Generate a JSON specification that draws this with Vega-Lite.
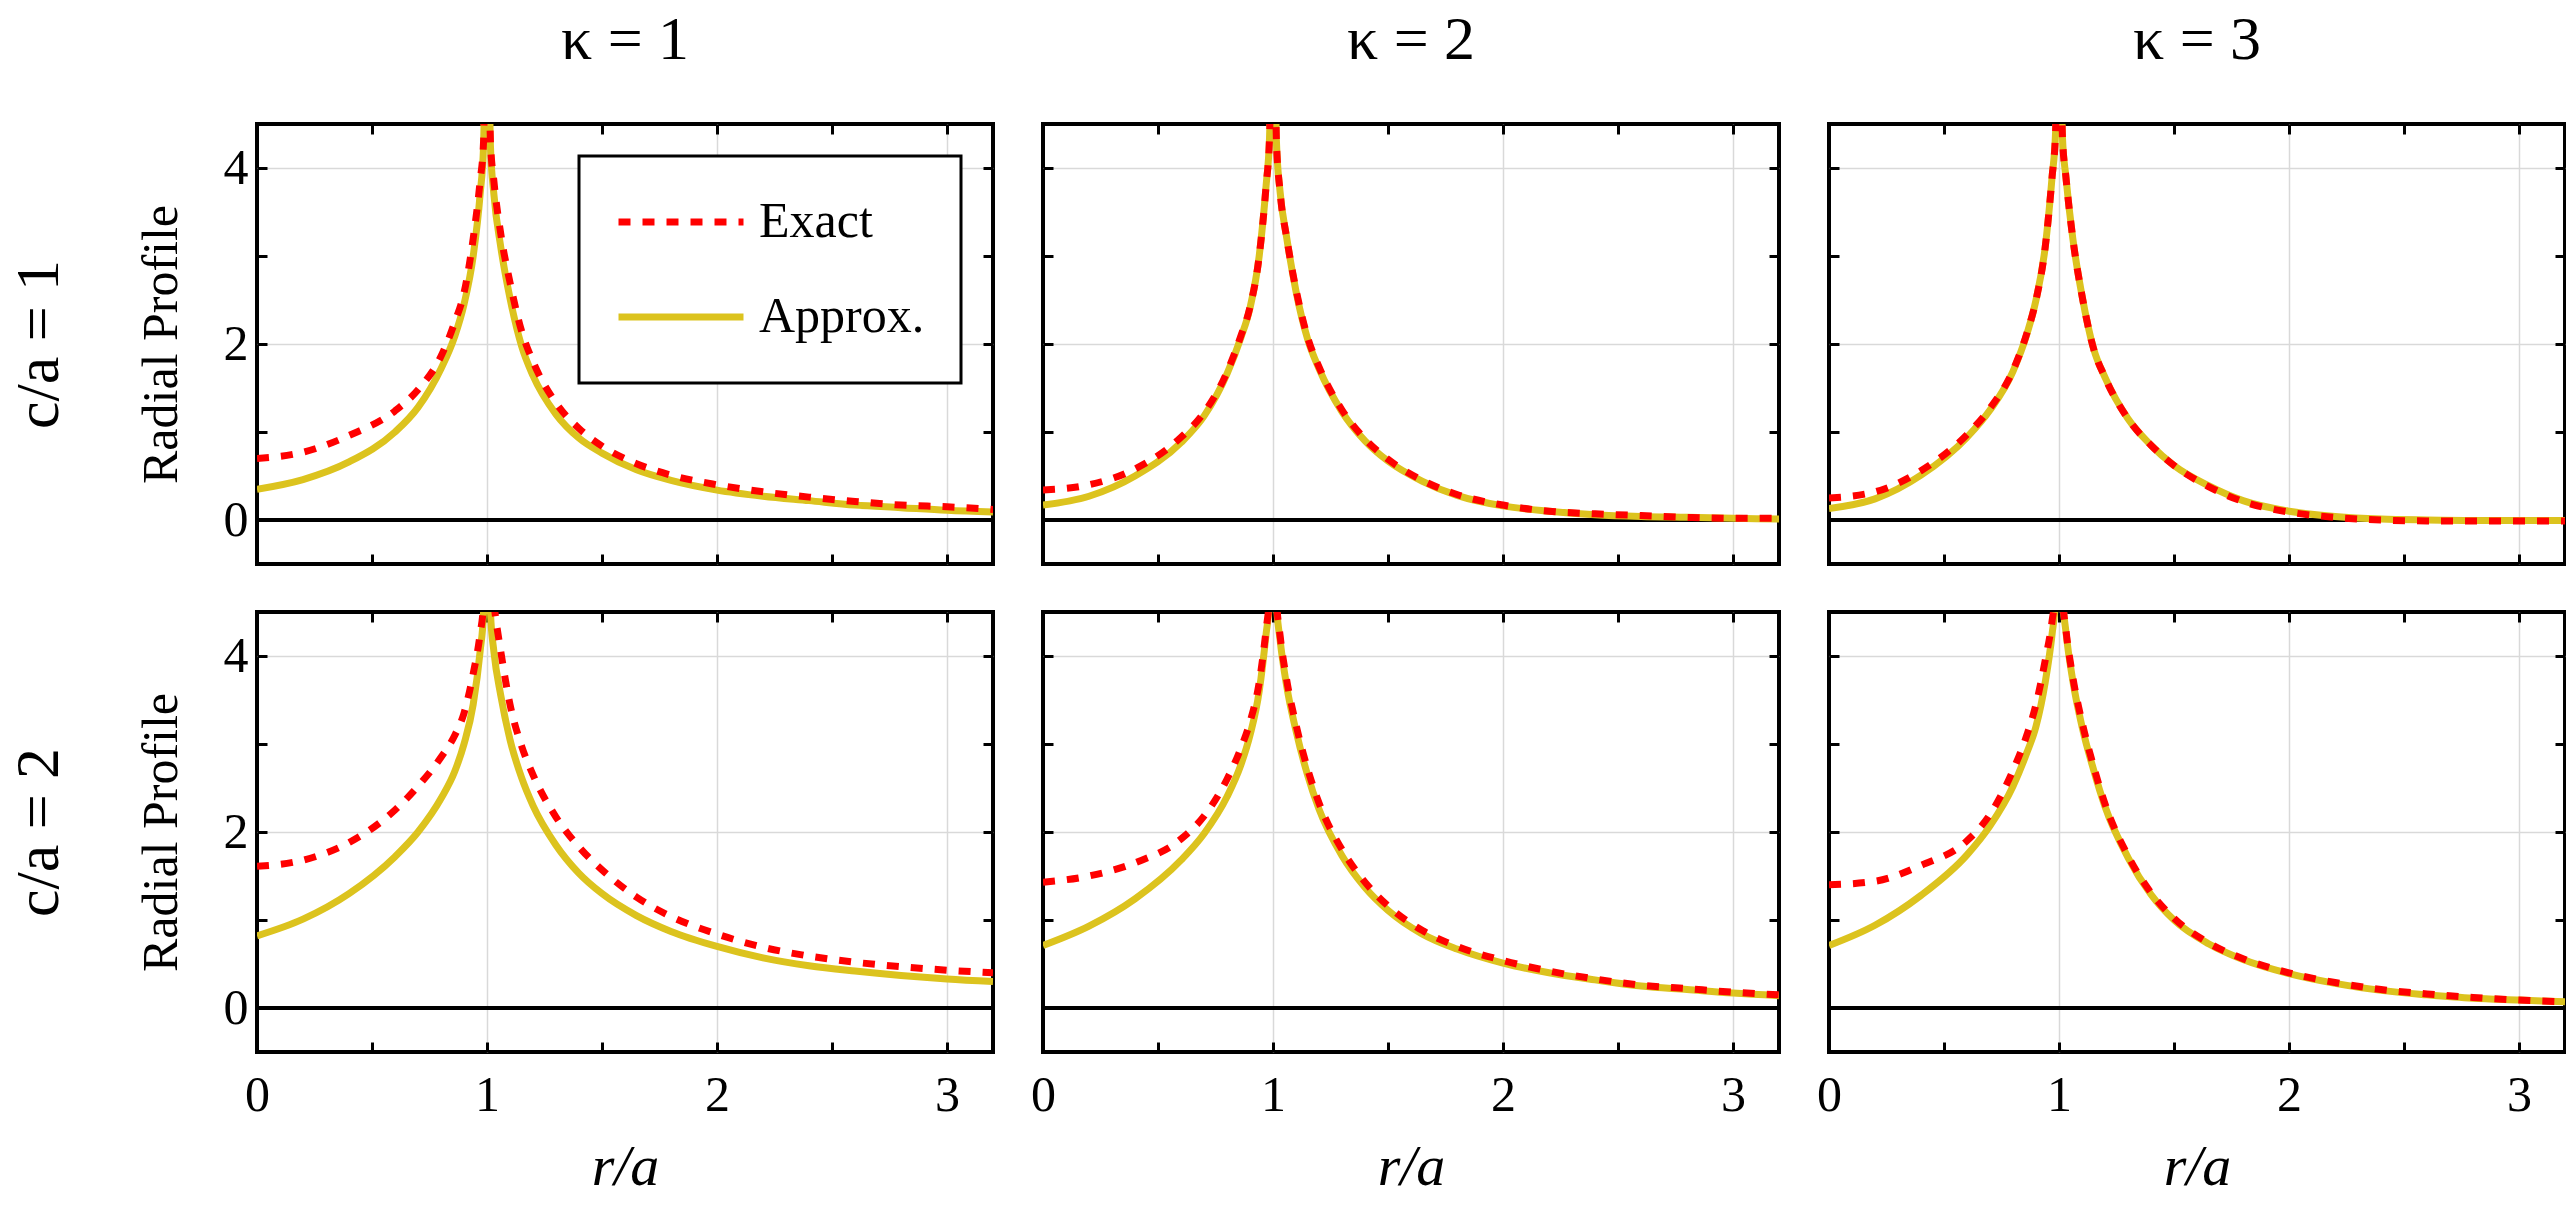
{
  "$schema": "https://vega.github.io/schema/vega-lite/v6.json",
  "description": "Radial profile: exact vs approximate, for kappa = 1, 2, 3 and c/a = 1, 2.",
  "padding": {"left": 5, "top": 6, "right": 5, "bottom": 5},
  "config": {
    "font": "Liberation Serif",
    "view": {"stroke": "black", "strokeWidth": 4},
    "axis": {
      "domain": false,
      "tickColor": "black",
      "tickWidth": 3,
      "tickSize": -10,
      "labelFont": "Liberation Serif",
      "labelFontSize": 50,
      "labelColor": "black",
      "labelFlush": false,
      "labelOverlap": false,
      "titleFont": "Liberation Serif",
      "titleFontSize": 50,
      "titleFontWeight": "normal",
      "titleColor": "black",
      "gridColor": "#d9d9d9",
      "gridWidth": 1.5
    },
    "axisX": {"labelPadding": 28, "titlePadding": 18, "titleFontStyle": "italic", "titleFontSize": 58},
    "axisY": {"labelPadding": 19, "titlePadding": 37},
    "title": {"font": "Liberation Serif", "fontSize": 62, "fontWeight": "normal", "color": "black", "offset": 51, "anchor": "middle", "frame": "group"},
    "legend": {"labelFont": "Liberation Serif", "labelFontSize": 50, "labelColor": "black", "labelLimit": 400}
  },
  "datasets": {
    "profiles": [
      {"k":1,"c":1,"r":0,"ex":0.70,"ap":0.35},
      {"k":1,"c":1,"r":0.2,"ex":0.77,"ap":0.46},
      {"k":1,"c":1,"r":0.4,"ex":0.96,"ap":0.66},
      {"k":1,"c":1,"r":0.6,"ex":1.24,"ap":1.0},
      {"k":1,"c":1,"r":0.7,"ex":1.48,"ap":1.28},
      {"k":1,"c":1,"r":0.8,"ex":1.86,"ap":1.72},
      {"k":1,"c":1,"r":0.86,"ex":2.25,"ap":2.09},
      {"k":1,"c":1,"r":0.9,"ex":2.58,"ap":2.45},
      {"k":1,"c":1,"r":0.94,"ex":3.2,"ap":3.0},
      {"k":1,"c":1,"r":0.97,"ex":3.85,"ap":3.7},
      {"k":1,"c":1,"r":0.985,"ex":4.3,"ap":4.25},
      {"k":1,"c":1,"r":1,"ex":6.5,"ap":6.5},
      {"k":1,"c":1,"r":1.015,"ex":4.3,"ap":4.25},
      {"k":1,"c":1,"r":1.03,"ex":3.85,"ap":3.7},
      {"k":1,"c":1,"r":1.06,"ex":3.25,"ap":3.1},
      {"k":1,"c":1,"r":1.1,"ex":2.7,"ap":2.52},
      {"k":1,"c":1,"r":1.15,"ex":2.15,"ap":1.98},
      {"k":1,"c":1,"r":1.2,"ex":1.8,"ap":1.64},
      {"k":1,"c":1,"r":1.3,"ex":1.33,"ap":1.2},
      {"k":1,"c":1,"r":1.4,"ex":1.04,"ap":0.93},
      {"k":1,"c":1,"r":1.5,"ex":0.84,"ap":0.76},
      {"k":1,"c":1,"r":1.65,"ex":0.64,"ap":0.57},
      {"k":1,"c":1,"r":1.8,"ex":0.51,"ap":0.45},
      {"k":1,"c":1,"r":2,"ex":0.40,"ap":0.34},
      {"k":1,"c":1,"r":2.2,"ex":0.32,"ap":0.27},
      {"k":1,"c":1,"r":2.4,"ex":0.26,"ap":0.22},
      {"k":1,"c":1,"r":2.6,"ex":0.21,"ap":0.17},
      {"k":1,"c":1,"r":2.8,"ex":0.17,"ap":0.14},
      {"k":1,"c":1,"r":3,"ex":0.15,"ap":0.11},
      {"k":1,"c":1,"r":3.2,"ex":0.12,"ap":0.09},

      {"k":2,"c":1,"r":0,"ex":0.34,"ap":0.17},
      {"k":2,"c":1,"r":0.2,"ex":0.40,"ap":0.27},
      {"k":2,"c":1,"r":0.4,"ex":0.58,"ap":0.50},
      {"k":2,"c":1,"r":0.6,"ex":0.94,"ap":0.88},
      {"k":2,"c":1,"r":0.7,"ex":1.22,"ap":1.18},
      {"k":2,"c":1,"r":0.8,"ex":1.68,"ap":1.66},
      {"k":2,"c":1,"r":0.86,"ex":2.09,"ap":2.07},
      {"k":2,"c":1,"r":0.9,"ex":2.42,"ap":2.41},
      {"k":2,"c":1,"r":0.94,"ex":3.0,"ap":3.0},
      {"k":2,"c":1,"r":0.97,"ex":3.8,"ap":3.8},
      {"k":2,"c":1,"r":0.985,"ex":4.35,"ap":4.35},
      {"k":2,"c":1,"r":1,"ex":6.5,"ap":6.5},
      {"k":2,"c":1,"r":1.015,"ex":4.3,"ap":4.3},
      {"k":2,"c":1,"r":1.03,"ex":3.75,"ap":3.75},
      {"k":2,"c":1,"r":1.06,"ex":3.2,"ap":3.2},
      {"k":2,"c":1,"r":1.1,"ex":2.62,"ap":2.6},
      {"k":2,"c":1,"r":1.15,"ex":2.08,"ap":2.06},
      {"k":2,"c":1,"r":1.2,"ex":1.74,"ap":1.72},
      {"k":2,"c":1,"r":1.3,"ex":1.25,"ap":1.23},
      {"k":2,"c":1,"r":1.4,"ex":0.92,"ap":0.90},
      {"k":2,"c":1,"r":1.5,"ex":0.69,"ap":0.67},
      {"k":2,"c":1,"r":1.65,"ex":0.45,"ap":0.44},
      {"k":2,"c":1,"r":1.8,"ex":0.29,"ap":0.28},
      {"k":2,"c":1,"r":2,"ex":0.17,"ap":0.16},
      {"k":2,"c":1,"r":2.2,"ex":0.10,"ap":0.10},
      {"k":2,"c":1,"r":2.4,"ex":0.07,"ap":0.06},
      {"k":2,"c":1,"r":2.6,"ex":0.05,"ap":0.04},
      {"k":2,"c":1,"r":2.8,"ex":0.03,"ap":0.03},
      {"k":2,"c":1,"r":3,"ex":0.02,"ap":0.02},
      {"k":2,"c":1,"r":3.2,"ex":0.02,"ap":0.01},

      {"k":3,"c":1,"r":0,"ex":0.25,"ap":0.13},
      {"k":3,"c":1,"r":0.2,"ex":0.32,"ap":0.24},
      {"k":3,"c":1,"r":0.4,"ex":0.56,"ap":0.51},
      {"k":3,"c":1,"r":0.6,"ex":0.97,"ap":0.94},
      {"k":3,"c":1,"r":0.7,"ex":1.27,"ap":1.25},
      {"k":3,"c":1,"r":0.8,"ex":1.70,"ap":1.69},
      {"k":3,"c":1,"r":0.86,"ex":2.12,"ap":2.11},
      {"k":3,"c":1,"r":0.9,"ex":2.5,"ap":2.5},
      {"k":3,"c":1,"r":0.94,"ex":3.1,"ap":3.1},
      {"k":3,"c":1,"r":0.97,"ex":3.9,"ap":3.9},
      {"k":3,"c":1,"r":0.985,"ex":4.4,"ap":4.4},
      {"k":3,"c":1,"r":1,"ex":6.5,"ap":6.5},
      {"k":3,"c":1,"r":1.015,"ex":4.35,"ap":4.35},
      {"k":3,"c":1,"r":1.03,"ex":3.9,"ap":3.9},
      {"k":3,"c":1,"r":1.06,"ex":3.2,"ap":3.2},
      {"k":3,"c":1,"r":1.1,"ex":2.55,"ap":2.55},
      {"k":3,"c":1,"r":1.15,"ex":1.95,"ap":1.95},
      {"k":3,"c":1,"r":1.2,"ex":1.62,"ap":1.62},
      {"k":3,"c":1,"r":1.3,"ex":1.15,"ap":1.15},
      {"k":3,"c":1,"r":1.4,"ex":0.85,"ap":0.85},
      {"k":3,"c":1,"r":1.5,"ex":0.62,"ap":0.62},
      {"k":3,"c":1,"r":1.65,"ex":0.38,"ap":0.39},
      {"k":3,"c":1,"r":1.8,"ex":0.21,"ap":0.22},
      {"k":3,"c":1,"r":2,"ex":0.09,"ap":0.10},
      {"k":3,"c":1,"r":2.2,"ex":0.03,"ap":0.04},
      {"k":3,"c":1,"r":2.4,"ex":0.0,"ap":0.01},
      {"k":3,"c":1,"r":2.6,"ex":-0.01,"ap":0.0},
      {"k":3,"c":1,"r":2.8,"ex":-0.01,"ap":-0.005},
      {"k":3,"c":1,"r":3,"ex":-0.01,"ap":-0.005},
      {"k":3,"c":1,"r":3.2,"ex":-0.01,"ap":-0.005},

      {"k":1,"c":2,"r":0,"ex":1.61,"ap":0.82},
      {"k":1,"c":2,"r":0.2,"ex":1.68,"ap":1.01},
      {"k":1,"c":2,"r":0.4,"ex":1.88,"ap":1.30},
      {"k":1,"c":2,"r":0.6,"ex":2.25,"ap":1.72},
      {"k":1,"c":2,"r":0.7,"ex":2.52,"ap":2.0},
      {"k":1,"c":2,"r":0.8,"ex":2.85,"ap":2.38},
      {"k":1,"c":2,"r":0.86,"ex":3.1,"ap":2.69},
      {"k":1,"c":2,"r":0.9,"ex":3.35,"ap":3.0},
      {"k":1,"c":2,"r":0.94,"ex":3.8,"ap":3.45},
      {"k":1,"c":2,"r":0.97,"ex":4.25,"ap":4.05},
      {"k":1,"c":2,"r":0.985,"ex":4.6,"ap":4.5},
      {"k":1,"c":2,"r":1,"ex":6.5,"ap":6.5},
      {"k":1,"c":2,"r":1.015,"ex":5.0,"ap":4.5},
      {"k":1,"c":2,"r":1.03,"ex":4.6,"ap":4.05},
      {"k":1,"c":2,"r":1.06,"ex":4.05,"ap":3.55},
      {"k":1,"c":2,"r":1.1,"ex":3.45,"ap":3.05},
      {"k":1,"c":2,"r":1.15,"ex":2.98,"ap":2.62},
      {"k":1,"c":2,"r":1.2,"ex":2.65,"ap":2.3},
      {"k":1,"c":2,"r":1.3,"ex":2.17,"ap":1.85},
      {"k":1,"c":2,"r":1.4,"ex":1.83,"ap":1.53},
      {"k":1,"c":2,"r":1.5,"ex":1.57,"ap":1.3},
      {"k":1,"c":2,"r":1.65,"ex":1.26,"ap":1.05},
      {"k":1,"c":2,"r":1.8,"ex":1.04,"ap":0.87},
      {"k":1,"c":2,"r":2,"ex":0.84,"ap":0.70},
      {"k":1,"c":2,"r":2.2,"ex":0.69,"ap":0.57},
      {"k":1,"c":2,"r":2.4,"ex":0.59,"ap":0.48},
      {"k":1,"c":2,"r":2.6,"ex":0.52,"ap":0.42},
      {"k":1,"c":2,"r":2.8,"ex":0.47,"ap":0.37},
      {"k":1,"c":2,"r":3,"ex":0.43,"ap":0.33},
      {"k":1,"c":2,"r":3.2,"ex":0.40,"ap":0.30},

      {"k":2,"c":2,"r":0,"ex":1.43,"ap":0.71},
      {"k":2,"c":2,"r":0.2,"ex":1.50,"ap":0.93},
      {"k":2,"c":2,"r":0.4,"ex":1.65,"ap":1.24},
      {"k":2,"c":2,"r":0.6,"ex":1.92,"ap":1.68},
      {"k":2,"c":2,"r":0.7,"ex":2.18,"ap":1.98},
      {"k":2,"c":2,"r":0.8,"ex":2.6,"ap":2.4},
      {"k":2,"c":2,"r":0.86,"ex":2.95,"ap":2.76},
      {"k":2,"c":2,"r":0.9,"ex":3.25,"ap":3.1},
      {"k":2,"c":2,"r":0.94,"ex":3.7,"ap":3.6},
      {"k":2,"c":2,"r":0.97,"ex":4.3,"ap":4.25},
      {"k":2,"c":2,"r":0.985,"ex":4.7,"ap":4.65},
      {"k":2,"c":2,"r":1,"ex":6.5,"ap":6.5},
      {"k":2,"c":2,"r":1.015,"ex":4.65,"ap":4.6},
      {"k":2,"c":2,"r":1.03,"ex":4.25,"ap":4.2},
      {"k":2,"c":2,"r":1.06,"ex":3.72,"ap":3.65},
      {"k":2,"c":2,"r":1.1,"ex":3.22,"ap":3.15},
      {"k":2,"c":2,"r":1.15,"ex":2.72,"ap":2.65},
      {"k":2,"c":2,"r":1.2,"ex":2.33,"ap":2.26},
      {"k":2,"c":2,"r":1.3,"ex":1.8,"ap":1.73},
      {"k":2,"c":2,"r":1.4,"ex":1.43,"ap":1.37},
      {"k":2,"c":2,"r":1.5,"ex":1.16,"ap":1.11},
      {"k":2,"c":2,"r":1.65,"ex":0.88,"ap":0.84},
      {"k":2,"c":2,"r":1.8,"ex":0.70,"ap":0.67},
      {"k":2,"c":2,"r":2,"ex":0.54,"ap":0.51},
      {"k":2,"c":2,"r":2.2,"ex":0.42,"ap":0.40},
      {"k":2,"c":2,"r":2.4,"ex":0.33,"ap":0.32},
      {"k":2,"c":2,"r":2.6,"ex":0.26,"ap":0.25},
      {"k":2,"c":2,"r":2.8,"ex":0.22,"ap":0.21},
      {"k":2,"c":2,"r":3,"ex":0.18,"ap":0.17},
      {"k":2,"c":2,"r":3.2,"ex":0.15,"ap":0.14},

      {"k":3,"c":2,"r":0,"ex":1.40,"ap":0.71},
      {"k":3,"c":2,"r":0.2,"ex":1.44,"ap":0.94},
      {"k":3,"c":2,"r":0.4,"ex":1.62,"ap":1.28},
      {"k":3,"c":2,"r":0.6,"ex":1.90,"ap":1.74},
      {"k":3,"c":2,"r":0.7,"ex":2.2,"ap":2.07},
      {"k":3,"c":2,"r":0.8,"ex":2.7,"ap":2.52},
      {"k":3,"c":2,"r":0.86,"ex":3.1,"ap":2.9},
      {"k":3,"c":2,"r":0.9,"ex":3.45,"ap":3.2},
      {"k":3,"c":2,"r":0.94,"ex":3.95,"ap":3.7},
      {"k":3,"c":2,"r":0.97,"ex":4.4,"ap":4.25},
      {"k":3,"c":2,"r":0.985,"ex":4.75,"ap":4.65},
      {"k":3,"c":2,"r":1,"ex":6.5,"ap":6.5},
      {"k":3,"c":2,"r":1.015,"ex":4.7,"ap":4.7},
      {"k":3,"c":2,"r":1.03,"ex":4.3,"ap":4.28},
      {"k":3,"c":2,"r":1.06,"ex":3.76,"ap":3.72},
      {"k":3,"c":2,"r":1.1,"ex":3.25,"ap":3.2},
      {"k":3,"c":2,"r":1.15,"ex":2.75,"ap":2.71},
      {"k":3,"c":2,"r":1.2,"ex":2.32,"ap":2.29},
      {"k":3,"c":2,"r":1.3,"ex":1.73,"ap":1.71},
      {"k":3,"c":2,"r":1.4,"ex":1.31,"ap":1.29},
      {"k":3,"c":2,"r":1.5,"ex":1.02,"ap":1.0},
      {"k":3,"c":2,"r":1.65,"ex":0.74,"ap":0.73},
      {"k":3,"c":2,"r":1.8,"ex":0.56,"ap":0.55},
      {"k":3,"c":2,"r":2,"ex":0.40,"ap":0.39},
      {"k":3,"c":2,"r":2.2,"ex":0.29,"ap":0.28},
      {"k":3,"c":2,"r":2.4,"ex":0.21,"ap":0.20},
      {"k":3,"c":2,"r":2.6,"ex":0.16,"ap":0.15},
      {"k":3,"c":2,"r":2.8,"ex":0.12,"ap":0.11},
      {"k":3,"c":2,"r":3,"ex":0.09,"ap":0.09},
      {"k":3,"c":2,"r":3.2,"ex":0.07,"ap":0.07}
    ]
  },
  "vconcat": [
    {
      "spacing": 50,
      "bounds": "flush",
      "resolve": {"scale": {"color": "independent"}, "legend": {"color": "independent"}},
      "hconcat": [
        {
          "title": {"text": "κ = 1"},
          "width": 736, "height": 440,
          "data": {"name": "profiles"},
          "transform": [{"filter": "datum.k === 1 && datum.c === 1"}],
          "layer": [
            {"mark": {"type": "rule", "color": "black", "strokeWidth": 4},
             "encoding": {"y": {"datum": 0, "type": "quantitative", "scale": {"domain": [-0.5, 4.5], "nice": false},
                                "axis": {"orient": "left", "title": "c/a = 1", "titleFontSize": 62, "labels": false, "ticks": false, "grid": false, "domain": false, "offset": 150, "titlePadding": 37}}}},
            {"mark": {"type": "line", "clip": true, "strokeWidth": 7, "interpolate": "monotone"},
             "encoding": {
               "x": {"field": "r", "type": "quantitative", "scale": {"domain": [0, 3.2], "nice": false, "zero": false},
                     "axis": {"orient": "bottom", "values": [0, 0.5, 1, 1.5, 2, 2.5, 3], "labels": false, "title": null, "grid": true,
                              "gridOpacity": {"condition": {"test": "datum.value > 0 && datum.value % 1 === 0", "value": 1}, "value": 0}}},
               "y": {"field": "ap", "type": "quantitative", "scale": {"domain": [-0.5, 4.5], "nice": false},
                     "axis": {"orient": "left", "values": [0, 1, 2, 3, 4], "format": "d", "labelExpr": "datum.value % 2 === 0 ? datum.label : ''", "title": "Radial Profile", "grid": true,
                              "gridOpacity": {"condition": {"test": "datum.value === 2 || datum.value === 4", "value": 1}, "value": 0}}},
               "color": {"datum": "Approx.", "type": "nominal",
                         "scale": {"domain": ["Exact", "Approx."], "range": ["#ff0000", "#dcc31e"]},
                         "legend": {"title": null, "orient": "top-right", "offset": 32, "symbolType": "stroke", "symbolSize": 15625,
                                    "symbolStrokeWidth": 7, "labelOffset": 12, "rowPadding": 35, "padding": 36, "clipHeight": 60,
                                    "labelLimit": 400,
                                    "strokeColor": "black", "fillColor": "white",
                                    "encode": {
                                      "symbols": {"update": {"strokeDash": {"signal": "datum.value === 'Exact' ? [12, 12] : [1, 0]"}, "strokeWidth": {"value": 7}}},
                                      "legend": {"update": {"strokeWidth": {"value": 3}}}
                                    }}}
             }},
            {"mark": {"type": "line", "clip": true, "strokeWidth": 7, "strokeDash": [12, 12], "strokeCap": "butt", "interpolate": "monotone"},
             "encoding": {
               "x": {"field": "r", "type": "quantitative", "axis": {"orient": "top", "values": [0, 0.5, 1, 1.5, 2, 2.5, 3], "labels": false, "title": null, "grid": false}},
               "y": {"field": "ex", "type": "quantitative", "axis": {"orient": "right", "values": [0, 1, 2, 3, 4], "labels": false, "title": null, "grid": false}},
               "color": {"datum": "Exact", "type": "nominal"}
             }}
          ],
          "resolve": {"axis": {"x": "independent", "y": "independent"}}
        },
        {
          "title": {"text": "κ = 2"},
          "width": 736, "height": 440,
          "data": {"name": "profiles"},
          "transform": [{"filter": "datum.k === 2 && datum.c === 1"}],
          "layer": [
            {"mark": {"type": "rule", "color": "black", "strokeWidth": 4},
             "encoding": {"y": {"datum": 0, "type": "quantitative", "scale": {"domain": [-0.5, 4.5], "nice": false}, "axis": null}}},
            {"mark": {"type": "line", "clip": true, "strokeWidth": 7, "interpolate": "monotone"},
             "encoding": {
               "x": {"field": "r", "type": "quantitative", "scale": {"domain": [0, 3.2], "nice": false, "zero": false},
                     "axis": {"orient": "bottom", "values": [0, 0.5, 1, 1.5, 2, 2.5, 3], "labels": false, "title": null, "grid": true,
                              "gridOpacity": {"condition": {"test": "datum.value > 0 && datum.value % 1 === 0", "value": 1}, "value": 0}}},
               "y": {"field": "ap", "type": "quantitative", "scale": {"domain": [-0.5, 4.5], "nice": false},
                     "axis": {"orient": "left", "values": [0, 1, 2, 3, 4], "labels": false, "title": null, "grid": true,
                              "gridOpacity": {"condition": {"test": "datum.value === 2 || datum.value === 4", "value": 1}, "value": 0}}},
               "color": {"datum": "Approx.", "type": "nominal", "scale": {"domain": ["Exact", "Approx."], "range": ["#ff0000", "#dcc31e"]}, "legend": null}
             }},
            {"mark": {"type": "line", "clip": true, "strokeWidth": 7, "strokeDash": [12, 12], "strokeCap": "butt", "interpolate": "monotone"},
             "encoding": {
               "x": {"field": "r", "type": "quantitative", "axis": {"orient": "top", "values": [0, 0.5, 1, 1.5, 2, 2.5, 3], "labels": false, "title": null, "grid": false}},
               "y": {"field": "ex", "type": "quantitative", "axis": {"orient": "right", "values": [0, 1, 2, 3, 4], "labels": false, "title": null, "grid": false}},
               "color": {"datum": "Exact", "type": "nominal"}
             }}
          ],
          "resolve": {"axis": {"x": "independent", "y": "independent"}}
        },
        {
          "title": {"text": "κ = 3"},
          "width": 736, "height": 440,
          "data": {"name": "profiles"},
          "transform": [{"filter": "datum.k === 3 && datum.c === 1"}],
          "layer": [
            {"mark": {"type": "rule", "color": "black", "strokeWidth": 4},
             "encoding": {"y": {"datum": 0, "type": "quantitative", "scale": {"domain": [-0.5, 4.5], "nice": false}, "axis": null}}},
            {"mark": {"type": "line", "clip": true, "strokeWidth": 7, "interpolate": "monotone"},
             "encoding": {
               "x": {"field": "r", "type": "quantitative", "scale": {"domain": [0, 3.2], "nice": false, "zero": false},
                     "axis": {"orient": "bottom", "values": [0, 0.5, 1, 1.5, 2, 2.5, 3], "labels": false, "title": null, "grid": true,
                              "gridOpacity": {"condition": {"test": "datum.value > 0 && datum.value % 1 === 0", "value": 1}, "value": 0}}},
               "y": {"field": "ap", "type": "quantitative", "scale": {"domain": [-0.5, 4.5], "nice": false},
                     "axis": {"orient": "left", "values": [0, 1, 2, 3, 4], "labels": false, "title": null, "grid": true,
                              "gridOpacity": {"condition": {"test": "datum.value === 2 || datum.value === 4", "value": 1}, "value": 0}}},
               "color": {"datum": "Approx.", "type": "nominal", "scale": {"domain": ["Exact", "Approx."], "range": ["#ff0000", "#dcc31e"]}, "legend": null}
             }},
            {"mark": {"type": "line", "clip": true, "strokeWidth": 7, "strokeDash": [12, 12], "strokeCap": "butt", "interpolate": "monotone"},
             "encoding": {
               "x": {"field": "r", "type": "quantitative", "axis": {"orient": "top", "values": [0, 0.5, 1, 1.5, 2, 2.5, 3], "labels": false, "title": null, "grid": false}},
               "y": {"field": "ex", "type": "quantitative", "axis": {"orient": "right", "values": [0, 1, 2, 3, 4], "labels": false, "title": null, "grid": false}},
               "color": {"datum": "Exact", "type": "nominal"}
             }}
          ],
          "resolve": {"axis": {"x": "independent", "y": "independent"}}
        }
      ]
    },
    {
      "spacing": 50,
      "bounds": "flush",
      "resolve": {"scale": {"color": "independent"}, "legend": {"color": "independent"}},
      "hconcat": [
        {
          "width": 736, "height": 440,
          "data": {"name": "profiles"},
          "transform": [{"filter": "datum.k === 1 && datum.c === 2"}],
          "layer": [
            {"mark": {"type": "rule", "color": "black", "strokeWidth": 4},
             "encoding": {"y": {"datum": 0, "type": "quantitative", "scale": {"domain": [-0.5, 4.5], "nice": false},
                                "axis": {"orient": "left", "title": "c/a = 2", "titleFontSize": 62, "labels": false, "ticks": false, "grid": false, "domain": false, "offset": 150, "titlePadding": 37}}}},
            {"mark": {"type": "line", "clip": true, "strokeWidth": 7, "interpolate": "monotone"},
             "encoding": {
               "x": {"field": "r", "type": "quantitative", "scale": {"domain": [0, 3.2], "nice": false, "zero": false},
                     "axis": {"orient": "bottom", "values": [0, 0.5, 1, 1.5, 2, 2.5, 3], "labelExpr": "datum.value % 1 === 0 ? format(datum.value, 'd') : ''", "title": "r/a", "grid": true,
                              "gridOpacity": {"condition": {"test": "datum.value > 0 && datum.value % 1 === 0", "value": 1}, "value": 0}}},
               "y": {"field": "ap", "type": "quantitative", "scale": {"domain": [-0.5, 4.5], "nice": false},
                     "axis": {"orient": "left", "values": [0, 1, 2, 3, 4], "format": "d", "labelExpr": "datum.value % 2 === 0 ? datum.label : ''", "title": "Radial Profile", "grid": true,
                              "gridOpacity": {"condition": {"test": "datum.value === 2 || datum.value === 4", "value": 1}, "value": 0}}},
               "color": {"datum": "Approx.", "type": "nominal", "scale": {"domain": ["Exact", "Approx."], "range": ["#ff0000", "#dcc31e"]}, "legend": null}
             }},
            {"mark": {"type": "line", "clip": true, "strokeWidth": 7, "strokeDash": [12, 12], "strokeCap": "butt", "interpolate": "monotone"},
             "encoding": {
               "x": {"field": "r", "type": "quantitative", "axis": {"orient": "top", "values": [0, 0.5, 1, 1.5, 2, 2.5, 3], "labels": false, "title": null, "grid": false}},
               "y": {"field": "ex", "type": "quantitative", "axis": {"orient": "right", "values": [0, 1, 2, 3, 4], "labels": false, "title": null, "grid": false}},
               "color": {"datum": "Exact", "type": "nominal"}
             }}
          ],
          "resolve": {"axis": {"x": "independent", "y": "independent"}}
        },
        {
          "width": 736, "height": 440,
          "data": {"name": "profiles"},
          "transform": [{"filter": "datum.k === 2 && datum.c === 2"}],
          "layer": [
            {"mark": {"type": "rule", "color": "black", "strokeWidth": 4},
             "encoding": {"y": {"datum": 0, "type": "quantitative", "scale": {"domain": [-0.5, 4.5], "nice": false}, "axis": null}}},
            {"mark": {"type": "line", "clip": true, "strokeWidth": 7, "interpolate": "monotone"},
             "encoding": {
               "x": {"field": "r", "type": "quantitative", "scale": {"domain": [0, 3.2], "nice": false, "zero": false},
                     "axis": {"orient": "bottom", "values": [0, 0.5, 1, 1.5, 2, 2.5, 3], "labelExpr": "datum.value % 1 === 0 ? format(datum.value, 'd') : ''", "title": "r/a", "grid": true,
                              "gridOpacity": {"condition": {"test": "datum.value > 0 && datum.value % 1 === 0", "value": 1}, "value": 0}}},
               "y": {"field": "ap", "type": "quantitative", "scale": {"domain": [-0.5, 4.5], "nice": false},
                     "axis": {"orient": "left", "values": [0, 1, 2, 3, 4], "labels": false, "title": null, "grid": true,
                              "gridOpacity": {"condition": {"test": "datum.value === 2 || datum.value === 4", "value": 1}, "value": 0}}},
               "color": {"datum": "Approx.", "type": "nominal", "scale": {"domain": ["Exact", "Approx."], "range": ["#ff0000", "#dcc31e"]}, "legend": null}
             }},
            {"mark": {"type": "line", "clip": true, "strokeWidth": 7, "strokeDash": [12, 12], "strokeCap": "butt", "interpolate": "monotone"},
             "encoding": {
               "x": {"field": "r", "type": "quantitative", "axis": {"orient": "top", "values": [0, 0.5, 1, 1.5, 2, 2.5, 3], "labels": false, "title": null, "grid": false}},
               "y": {"field": "ex", "type": "quantitative", "axis": {"orient": "right", "values": [0, 1, 2, 3, 4], "labels": false, "title": null, "grid": false}},
               "color": {"datum": "Exact", "type": "nominal"}
             }}
          ],
          "resolve": {"axis": {"x": "independent", "y": "independent"}}
        },
        {
          "width": 736, "height": 440,
          "data": {"name": "profiles"},
          "transform": [{"filter": "datum.k === 3 && datum.c === 2"}],
          "layer": [
            {"mark": {"type": "rule", "color": "black", "strokeWidth": 4},
             "encoding": {"y": {"datum": 0, "type": "quantitative", "scale": {"domain": [-0.5, 4.5], "nice": false}, "axis": null}}},
            {"mark": {"type": "line", "clip": true, "strokeWidth": 7, "interpolate": "monotone"},
             "encoding": {
               "x": {"field": "r", "type": "quantitative", "scale": {"domain": [0, 3.2], "nice": false, "zero": false},
                     "axis": {"orient": "bottom", "values": [0, 0.5, 1, 1.5, 2, 2.5, 3], "labelExpr": "datum.value % 1 === 0 ? format(datum.value, 'd') : ''", "title": "r/a", "grid": true,
                              "gridOpacity": {"condition": {"test": "datum.value > 0 && datum.value % 1 === 0", "value": 1}, "value": 0}}},
               "y": {"field": "ap", "type": "quantitative", "scale": {"domain": [-0.5, 4.5], "nice": false},
                     "axis": {"orient": "left", "values": [0, 1, 2, 3, 4], "labels": false, "title": null, "grid": true,
                              "gridOpacity": {"condition": {"test": "datum.value === 2 || datum.value === 4", "value": 1}, "value": 0}}},
               "color": {"datum": "Approx.", "type": "nominal", "scale": {"domain": ["Exact", "Approx."], "range": ["#ff0000", "#dcc31e"]}, "legend": null}
             }},
            {"mark": {"type": "line", "clip": true, "strokeWidth": 7, "strokeDash": [12, 12], "strokeCap": "butt", "interpolate": "monotone"},
             "encoding": {
               "x": {"field": "r", "type": "quantitative", "axis": {"orient": "top", "values": [0, 0.5, 1, 1.5, 2, 2.5, 3], "labels": false, "title": null, "grid": false}},
               "y": {"field": "ex", "type": "quantitative", "axis": {"orient": "right", "values": [0, 1, 2, 3, 4], "labels": false, "title": null, "grid": false}},
               "color": {"datum": "Exact", "type": "nominal"}
             }}
          ],
          "resolve": {"axis": {"x": "independent", "y": "independent"}}
        }
      ]
    }
  ],
  "spacing": 40,
  "resolve": {"scale": {"color": "independent"}, "legend": {"color": "independent"}}
}
